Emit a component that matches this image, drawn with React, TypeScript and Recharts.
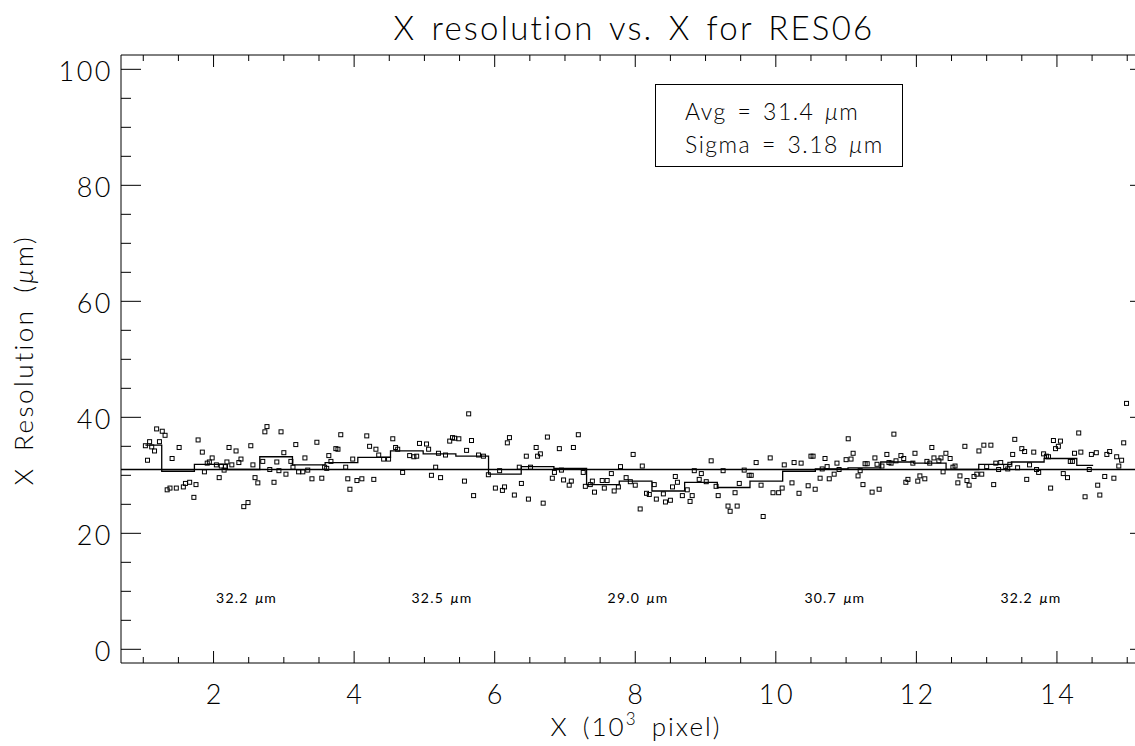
import React from "react";
import { ComposedChart, XAxis, YAxis, Scatter, Line, ReferenceLine } from "recharts";

const FONT = "Lato, 'DejaVu Sans', sans-serif";

// axis ticks (10^3 pixel / micron)
const X_TICKS = [1, 1.5, 2, 2.5, 3, 3.5, 4, 4.5, 5, 5.5, 6, 6.5, 7, 7.5, 8, 8.5, 9, 9.5, 10, 10.5, 11, 11.5, 12, 12.5, 13, 13.5, 14, 14.5, 15];
const X_MAJOR = [2, 4, 6, 8, 10, 12, 14];
const Y_TICKS = [0, 5, 10, 15, 20, 25, 30, 35, 40, 45, 50, 55, 60, 65, 70, 75, 80, 85, 90, 95, 100];
const Y_MAJOR = [0, 20, 40, 60, 80, 100];

// binned averages (histogram steps)
const BIN_CENTERS = [1.03, 1.495, 1.96, 2.425, 2.89, 3.355, 3.82, 4.285, 4.75, 5.215, 5.68, 6.145, 6.61, 7.075, 7.54, 8.005, 8.47, 8.935, 9.4, 9.865, 10.33, 10.795, 11.26, 11.725, 12.19, 12.655, 13.12, 13.585, 14.05, 14.515];
const BIN_MEANS = [35.2, 30.7, 31.9, 31.0, 33.2, 31.8, 32.2, 33.1, 34.2, 33.7, 33.3, 30.2, 31.5, 31.2, 28.4, 29.0, 27.3, 28.8, 27.9, 29.0, 30.7, 31.1, 31.3, 32.3, 32.1, 31.0, 31.9, 32.3, 32.9, 31.7];

// five region means written under the data
const REGION_X = [2.47, 5.25, 8.04, 10.84, 13.63];
const REGION_MEANS = ["32.2", "32.5", "29.0", "30.7", "32.2"];
const REGION_Y = 8;

const REF_LEVEL = 31.0;
const AVG = "31.4";
const SIGMA = "3.18";

// measured resolution per position: [x (10^3 pixel), resolution (um)]
const POINTS: [number, number][] = [
  [1.03, 35.1], [1.06, 32.6], [1.09, 35.8], [1.12, 34.9], [1.16, 34.2], [1.19, 38.0], [1.23, 35.8], [1.27, 37.6],
  [1.31, 36.9], [1.34, 27.5], [1.38, 27.8], [1.41, 32.9], [1.47, 27.8], [1.51, 34.8], [1.57, 28.0], [1.6, 28.6],
  [1.66, 28.8], [1.72, 26.2], [1.75, 28.4], [1.78, 36.1], [1.84, 34.0], [1.87, 30.6], [1.91, 32.1], [1.94, 32.3],
  [1.98, 33.0], [2.04, 31.8], [2.08, 29.6], [2.11, 31.6], [2.15, 30.9], [2.17, 31.5], [2.19, 32.3], [2.22, 34.8],
  [2.26, 31.8], [2.32, 34.2], [2.36, 32.2], [2.39, 32.8], [2.43, 24.6], [2.49, 25.3], [2.53, 35.1], [2.56, 31.8],
  [2.59, 29.6], [2.63, 28.7], [2.7, 32.4], [2.73, 37.5], [2.76, 38.4], [2.8, 31.0], [2.86, 28.8], [2.9, 32.3],
  [2.93, 30.8], [2.96, 37.5], [3.0, 33.9], [3.03, 30.2], [3.1, 32.4], [3.13, 31.4], [3.17, 35.3], [3.21, 30.6],
  [3.27, 30.6], [3.3, 33.0], [3.34, 30.9], [3.4, 29.4], [3.47, 35.7], [3.54, 29.5], [3.58, 31.4], [3.61, 31.2],
  [3.64, 33.4], [3.67, 32.4], [3.74, 34.6], [3.77, 34.5], [3.81, 37.0], [3.88, 31.4], [3.91, 29.4], [3.94, 27.6],
  [3.98, 32.8], [4.04, 29.1], [4.11, 29.4], [4.18, 36.8], [4.22, 35.0], [4.28, 29.3], [4.31, 34.5], [4.35, 33.5],
  [4.42, 32.8], [4.49, 32.8], [4.55, 36.3], [4.59, 34.8], [4.62, 34.5], [4.69, 30.5], [4.79, 33.4], [4.85, 33.2],
  [4.89, 33.3], [4.93, 35.5], [5.03, 35.4], [5.06, 34.5], [5.1, 30.0], [5.16, 31.4], [5.2, 33.8], [5.23, 29.6],
  [5.3, 33.5], [5.36, 35.9], [5.4, 36.5], [5.43, 36.4], [5.49, 36.3],
  [5.57, 29.0], [5.6, 34.3], [5.63, 40.6], [5.67, 36.0], [5.7, 26.5], [5.77, 33.5], [5.84, 33.3], [5.91, 30.1],
  [6.01, 27.8], [6.07, 30.8], [6.11, 27.4], [6.14, 28.0], [6.18, 35.6], [6.21, 36.5], [6.28, 26.6], [6.35, 31.4],
  [6.38, 28.6], [6.45, 33.3], [6.48, 25.9], [6.51, 31.4], [6.59, 34.8], [6.61, 33.3], [6.65, 33.7], [6.69, 25.2],
  [6.75, 36.6], [6.82, 29.5], [6.85, 30.5], [6.92, 34.6], [6.95, 30.9], [6.98, 29.2], [7.06, 28.3], [7.09, 29.0],
  [7.12, 34.8], [7.19, 37.0], [7.26, 30.5], [7.29, 28.1], [7.36, 28.4], [7.39, 29.0], [7.42, 27.1], [7.53, 29.1],
  [7.56, 27.8], [7.6, 29.1], [7.66, 30.3], [7.7, 27.3], [7.76, 28.0], [7.79, 31.5], [7.87, 29.6], [7.93, 28.9],
  [7.97, 33.6], [8.0, 28.3], [8.07, 24.2], [8.1, 31.6], [8.16, 26.9], [8.2, 26.7], [8.27, 28.4], [8.3, 25.9],
  [8.4, 26.8], [8.43, 25.4], [8.5, 25.7], [8.53, 28.0], [8.57, 29.8], [8.6, 28.8], [8.67, 26.5], [8.74, 27.5],
  [8.78, 25.5], [8.81, 26.5], [8.84, 30.8], [8.91, 29.3], [8.94, 30.3], [9.01, 28.9], [9.08, 32.5], [9.15, 28.1],
  [9.18, 26.5], [9.25, 30.8], [9.32, 24.7], [9.35, 23.8], [9.42, 27.0], [9.45, 24.7], [9.48, 28.6], [9.55, 30.9],
  [9.62, 30.0], [9.65, 30.0], [9.72, 32.2], [9.79, 28.3], [9.82, 22.9], [9.92, 33.0], [9.96, 27.0], [10.04, 27.0],
  [10.09, 27.8], [10.12, 31.8], [10.23, 28.7], [10.26, 32.2], [10.33, 26.9], [10.36, 32.1], [10.46, 28.2], [10.5, 33.3],
  [10.53, 33.3], [10.56, 27.6], [10.63, 29.5], [10.66, 31.1], [10.7, 32.9], [10.73, 31.5], [10.76, 29.4], [10.83, 30.2],
  [10.87, 32.1], [10.9, 31.0], [11.0, 32.7], [11.03, 36.3], [11.07, 32.8], [11.1, 33.8], [11.17, 29.9], [11.2, 30.8],
  [11.24, 28.4], [11.27, 32.0], [11.3, 32.0], [11.37, 27.1], [11.41, 33.0], [11.44, 31.9], [11.47, 27.6], [11.51, 31.6],
  [11.58, 33.6], [11.61, 32.2], [11.64, 32.1], [11.68, 37.1], [11.71, 32.5], [11.78, 33.4], [11.82, 32.9], [11.85, 28.8],
  [11.88, 29.3], [11.95, 32.1], [11.98, 33.8], [12.02, 29.0], [12.05, 29.9], [12.12, 29.4], [12.15, 32.4], [12.19, 32.1],
  [12.22, 34.8], [12.25, 33.0], [12.32, 32.5], [12.35, 33.0], [12.38, 30.6], [12.42, 33.8], [12.48, 32.9], [12.52, 31.4],
  [12.55, 31.6], [12.59, 28.7], [12.62, 29.9], [12.69, 35.0], [12.72, 29.1], [12.75, 28.3], [12.82, 29.8], [12.86, 30.2],
  [12.89, 34.2], [12.93, 30.2], [12.96, 35.2], [13.0, 31.5], [13.06, 35.2], [13.1, 28.4], [13.13, 32.1], [13.17, 31.0],
  [13.2, 32.2], [13.27, 31.5], [13.3, 31.1], [13.33, 31.9], [13.37, 33.6], [13.4, 36.2], [13.44, 31.3], [13.5, 34.6],
  [13.54, 34.1], [13.57, 29.3], [13.61, 31.8], [13.67, 34.0], [13.71, 31.0], [13.74, 30.5], [13.81, 33.7], [13.85, 33.3],
  [13.88, 33.2], [13.91, 27.8], [13.95, 36.0], [13.98, 34.6], [14.02, 35.0], [14.05, 35.9], [14.09, 30.3], [14.15, 29.6],
  [14.19, 32.4], [14.22, 32.4], [14.25, 33.8], [14.31, 37.3], [14.34, 34.0], [14.4, 26.3], [14.46, 31.0], [14.49, 33.6],
  [14.56, 33.9], [14.58, 28.3], [14.61, 26.6], [14.68, 29.8], [14.71, 33.6], [14.75, 34.1], [14.81, 29.5], [14.85, 33.2],
  [14.88, 31.6], [14.92, 32.6], [14.95, 35.6], [14.99, 42.4],
];

const scatterData = POINTS.map(([x, y]) => ({ x, y }));
const stepData = BIN_CENTERS.map((x, i) => ({ x, y: BIN_MEANS[i] }));
const regionData = REGION_X.map((x, i) => ({ x, y: REGION_Y, label: REGION_MEANS[i] }));

const BottomTick = (props: any) => {
  const { x, y, payload } = props;
  const major = X_MAJOR.includes(payload.value);
  return (
    <g>
      <line x1={x} x2={x} y1={y} y2={y - (major ? 12 : 6)} stroke="#000" strokeWidth={1} />
      {major && (
        <text x={x + 1.2} y={y + 41} textAnchor="middle" fontSize={27} fontFamily={FONT} fontWeight={300} letterSpacing={2.5} fill="#000">
          {payload.value}
        </text>
      )}
    </g>
  );
};

const TopTick = (props: any) => {
  const { x, y, payload } = props;
  const major = X_MAJOR.includes(payload.value);
  return <line x1={x} x2={x} y1={y} y2={y + (major ? 12 : 6)} stroke="#000" strokeWidth={1} />;
};

const LeftTick = (props: any) => {
  const { x, y, payload } = props;
  const major = Y_MAJOR.includes(payload.value);
  return (
    <g>
      <line x1={x} x2={x + (major ? 20 : 10)} y1={y} y2={y} stroke="#000" strokeWidth={1} />
      {major && (
        <text x={x - 8} y={y + 12} textAnchor="end" fontSize={27} fontFamily={FONT} fontWeight={300} letterSpacing={2.5} fill="#000">
          {payload.value}
        </text>
      )}
    </g>
  );
};

const RightTick = (props: any) => {
  const { x, y, payload } = props;
  const major = Y_MAJOR.includes(payload.value);
  return <line x1={x} x2={x - (major ? 20 : 10)} y1={y} y2={y} stroke="#000" strokeWidth={1} />;
};

const SquareDot = (props: any) => {
  const { cx, cy } = props;
  return <rect x={cx - 2} y={cy - 2} width={4} height={4} fill="none" stroke="#000" strokeWidth={1} />;
};

const RegionLabel = (props: any) => {
  const { cx, cy, payload } = props;
  return (
    <text x={cx} y={cy} textAnchor="middle" fontSize={14} fontFamily={FONT} letterSpacing={1.2} wordSpacing={2} fill="#000">
      {payload.label} <tspan fontStyle="italic">μ</tspan>m
    </text>
  );
};

export default function App() {
  return (
    <div style={{ position: "absolute", left: 0, top: 0, width: 1135, height: 746, overflow: "hidden", background: "#fff" }}>
      <ComposedChart width={1152} height={746} margin={{ top: 45, right: 0, bottom: 0, left: 0 }}>
        <XAxis
          xAxisId={0}
          dataKey="x"
          type="number"
          domain={[0.683, 15.324]}
          allowDataOverflow
          ticks={X_TICKS}
          interval={0}
          height={83}
          tickSize={0}
          tickMargin={0}
          tick={BottomTick}
          axisLine={{ stroke: "#000" }}
        />
        <XAxis
          xAxisId="top"
          orientation="top"
          dataKey="x"
          type="number"
          domain={[0.683, 15.324]}
          allowDataOverflow
          ticks={X_TICKS}
          interval={0}
          height={10}
          tickSize={0}
          tickMargin={0}
          tick={TopTick}
          axisLine={{ stroke: "#000" }}
        />
        <YAxis
          yAxisId={0}
          dataKey="y"
          type="number"
          domain={[-2.36, 102.47]}
          allowDataOverflow
          ticks={Y_TICKS}
          interval={0}
          width={121}
          tickSize={0}
          tickMargin={0}
          tick={LeftTick}
          axisLine={{ stroke: "#000" }}
        />
        <YAxis
          yAxisId="right"
          orientation="right"
          type="number"
          domain={[-2.36, 102.47]}
          allowDataOverflow
          ticks={Y_TICKS}
          interval={0}
          width={2}
          tickSize={0}
          tickMargin={0}
          tick={RightTick}
          axisLine={{ stroke: "#000" }}
        />
        <ReferenceLine y={REF_LEVEL} stroke="#000" strokeWidth={1.3} />
        <Line
          data={stepData}
          dataKey="y"
          type="step"
          stroke="#000"
          strokeWidth={1.3}
          dot={false}
          isAnimationActive={false}
        />
        <Scatter data={scatterData} dataKey="y" shape={SquareDot} isAnimationActive={false} />
        <Scatter data={regionData} dataKey="y" shape={RegionLabel} isAnimationActive={false} />
      </ComposedChart>
      <svg width={1135} height={746} style={{ position: "absolute", left: 0, top: 0, pointerEvents: "none" }} fontFamily={FONT} fontWeight={300}>
        <text x={634} y={40} textAnchor="middle" fontSize={33} fill="#000" letterSpacing={2.2} wordSpacing={4}>
          X resolution vs. X for RES06
        </text>
        <text x={636} y={736} textAnchor="middle" fontSize={26} fill="#000" letterSpacing={2} wordSpacing={5}>
          X (10<tspan dy={-11} fontSize={17}>3</tspan>
          <tspan dy={11}> pixel)</tspan>
        </text>
        <text transform="translate(33,360) rotate(-90)" textAnchor="middle" fontSize={26} fill="#000" letterSpacing={2.5} wordSpacing={6}>
          X Resolution (<tspan fontStyle="italic">μ</tspan>m)
        </text>
        <rect x={655.5} y={84.5} width={247} height={82} fill="#fff" stroke="#000" strokeWidth={1} />
        <text x={685} y={120} fontSize={23} fill="#000" letterSpacing={1.5} wordSpacing={3}>
          Avg = {AVG} <tspan fontStyle="italic">μ</tspan>m
        </text>
        <text x={685} y={153} fontSize={23} fill="#000" letterSpacing={1.5} wordSpacing={3}>
          Sigma = {SIGMA} <tspan fontStyle="italic">μ</tspan>m
        </text>
      </svg>
    </div>
  );
}
